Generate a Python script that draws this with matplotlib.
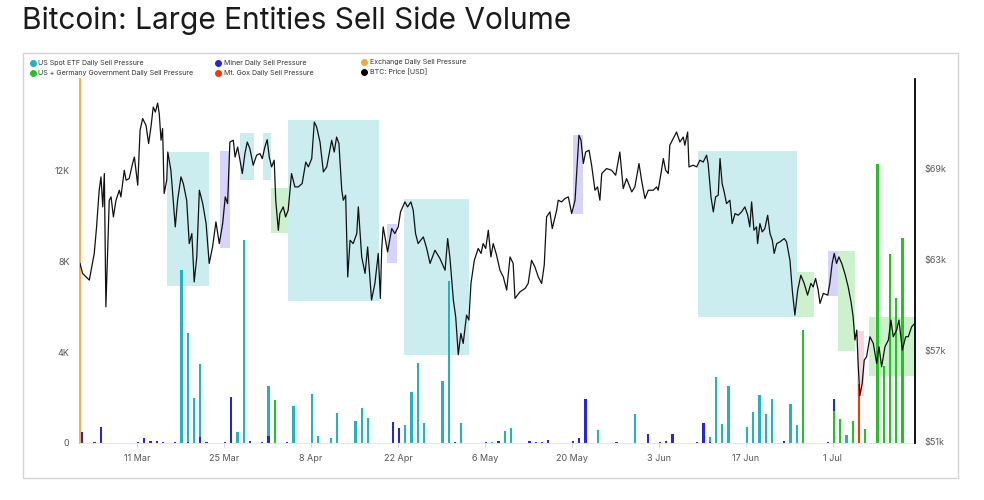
import matplotlib
matplotlib.use("Agg")
import matplotlib.pyplot as plt
import pandas as pd
from matplotlib.lines import Line2D
from matplotlib.patches import Rectangle
import matplotlib.dates as mdates
from matplotlib.ticker import FixedLocator, FixedFormatter

plt.rcParams['font.family'] = ['Inter', 'DejaVu Sans']

START = pd.Timestamp('2024-03-01 00:00')

# ---- BTC price (hours since START, USD) ----
price_hours = [20, 30, 56, 75, 84, 94, 101, 108, 114, 120, 127, 133, 140, 149, 159, 172, 178, 191, 198, 210,
               223, 230, 243, 252, 262, 275, 285, 294, 303, 311, 320, 326, 333, 339, 345, 355, 359, 371, 388, 397,
               410, 419, 432, 442, 452, 461, 471, 481, 494, 507, 519, 532, 545, 558, 571, 581, 590, 599, 612, 619,
               629, 638, 647, 657, 666, 676, 689, 702, 715, 724, 734, 743, 751, 760, 770, 776, 786, 792, 805, 814,
               824, 837, 850, 863, 878, 892, 902, 915, 925, 934, 947, 960, 973, 992, 1002, 1011, 1020, 1031, 1037, 1046,
               1054, 1063, 1075, 1089, 1095, 1108, 1121, 1131, 1146, 1159, 1172, 1180, 1185, 1191, 1208, 1224, 1236, 1249, 1258, 1275,
               1285, 1298, 1307, 1316, 1326, 1346, 1359, 1372, 1391, 1410, 1430, 1440, 1449, 1462, 1471, 1481, 1491, 1500, 1513, 1522,
               1530, 1543, 1558, 1569, 1577, 1587, 1597, 1607, 1616, 1629, 1642, 1655, 1668, 1681, 1693, 1700, 1719, 1739, 1751, 1764,
               1777, 1790, 1803, 1813, 1822, 1835, 1844, 1861, 1867, 1880, 1893, 1906, 1919, 1932, 1938, 1947, 1955, 1964, 1973, 1986,
               1996, 2009, 2019, 2028, 2035, 2054, 2073, 2089, 2105, 2118, 2131, 2151, 2163, 2179, 2189, 2202, 2215, 2234, 2247, 2253,
               2266, 2273, 2282, 2292, 2298, 2311, 2324, 2337, 2350, 2356, 2367, 2372, 2388, 2402, 2414, 2427, 2440, 2446, 2457, 2466,
               2475, 2485, 2492, 2500, 2508, 2517, 2530, 2539, 2550, 2562, 2575, 2588, 2599, 2607, 2614, 2623, 2633, 2637, 2646, 2655,
               2665, 2676, 2685, 2694, 2701, 2711, 2723, 2740, 2749, 2762, 2771, 2781, 2792, 2804, 2817, 2830, 2843, 2852, 2861, 2871,
               2878, 2891, 2908, 2916, 2925, 2933, 2942, 2951, 2962, 2974, 2987, 2998, 3006, 3013, 3020, 3026, 3032, 3041, 3049, 3058,
               3071, 3084, 3097, 3106, 3116, 3129, 3142, 3152, 3161, 3174, 3183, 3196, 3209, 3219, 3232, 3245]
price_usd = [62720, 62060, 61620, 63380, 65130, 67550, 68430, 66450, 68650, 59860, 63590, 66890, 67110, 65790, 66890, 67550, 67110, 68870, 68210, 68320,
             69310, 69740, 67880, 71500, 72280, 71830, 70630, 71720, 73040, 72710, 73300, 72610, 70850, 71620, 67330, 68210, 70070, 68870, 65130, 66890,
             68430, 67990, 66890, 64030, 64690, 61500, 63150, 67550, 66670, 65350, 62720, 63810, 65460, 64030, 65350, 67110, 66670, 70730, 70850, 69740,
             70400, 69530, 68650, 69970, 70730, 70300, 69200, 69860, 69970, 69640, 70400, 70890, 69740, 69090, 69530, 66890, 64900, 66010, 66450, 65790,
             66230, 68650, 67770, 67770, 67990, 69410, 69090, 69640, 72050, 71720, 70730, 68760, 69090, 70850, 70070, 71060, 70630, 67550, 66890, 67220,
             61830, 64250, 64030, 64690, 66450, 63150, 62060, 63810, 60300, 61400, 63380, 60410, 63590, 65130, 63480, 65020, 64690, 65130, 66120, 66780,
             66450, 66780, 66230, 64690, 64030, 64470, 63710, 62720, 63590, 63050, 62270, 64360, 63050, 60300, 59200, 56700, 58100, 57440, 59310, 58980,
             61400, 62930, 63710, 63380, 64030, 63710, 64910, 63150, 64030, 63260, 62270, 61830, 60960, 63150, 62720, 60410, 60840, 61070, 61400, 62930,
             62490, 61830, 61400, 62600, 65790, 66120, 65020, 66230, 66890, 66780, 67000, 67110, 66010, 66890, 68650, 71180, 70850, 69310, 70070, 70190,
             69200, 67550, 67770, 66890, 68650, 68980, 68870, 68540, 70070, 67660, 68320, 67440, 67770, 69310, 68210, 67000, 67550, 67550, 67770, 67550,
             68870, 69640, 68870, 68650, 70520, 70960, 71390, 70730, 71060, 70520, 71390, 69090, 69200, 69090, 69530, 69410, 69860, 69310, 67110, 66120,
             67110, 67220, 69640, 67990, 67440, 66670, 66890, 65350, 66010, 65900, 66120, 66450, 65900, 65130, 66780, 64910, 65130, 64030, 65350, 64800,
             65020, 65900, 64690, 64250, 63380, 64030, 64140, 64360, 64140, 62930, 60960, 59310, 60960, 61940, 61400, 60630, 61400, 61170, 61730, 60960,
             60080, 60740, 60630, 61400, 62720, 63380, 62720, 63150, 62720, 62060, 61170, 60180, 59200, 57660, 58320, 55900, 54000, 54800, 56340, 56560,
             57880, 57440, 56120, 57220, 55900, 57220, 57660, 58980, 57880, 58320, 58980, 57000, 57880, 57880, 58540, 58780]

# ---- daily sell pressure (BTC) ----
etf_dates = ['2024-03-18', '2024-03-19', '2024-03-20', '2024-03-21', '2024-03-27', '2024-03-28', '2024-04-01',
             '2024-04-05', '2024-04-08', '2024-04-09', '2024-04-11', '2024-04-12', '2024-04-15', '2024-04-16',
             '2024-04-17', '2024-04-23', '2024-04-24', '2024-04-25', '2024-04-26', '2024-04-29', '2024-04-30',
             '2024-05-02', '2024-05-07', '2024-05-09', '2024-05-10', '2024-05-24', '2024-05-30', '2024-06-10',
             '2024-06-11', '2024-06-12', '2024-06-13', '2024-06-14', '2024-06-17', '2024-06-18', '2024-06-19',
             '2024-06-20', '2024-06-21', '2024-06-24', '2024-06-25', '2024-06-26', '2024-07-03']
etf_btc = [7620, 4820, 1970, 3490, 500, 8930, 2510, 1630, 2140, 300, 230, 1330, 970, 1530, 1110, 790, 2260, 3540,
           890, 2750, 7140, 870, 30, 520, 660, 560, 1290, 600, 260, 2910, 850, 2510, 700, 1380, 2100, 1290, 1950,
           1700, 790, 200, 350]

miner_dates = ['2024-03-02', '2024-03-04', '2024-03-05', '2024-03-11', '2024-03-12', '2024-03-13', '2024-03-14',
               '2024-03-15', '2024-03-17', '2024-03-19', '2024-03-21', '2024-03-22', '2024-03-25', '2024-03-26',
               '2024-03-29', '2024-03-31', '2024-04-01', '2024-04-04', '2024-04-21', '2024-04-22', '2024-05-01',
               '2024-05-06', '2024-05-08', '2024-05-13', '2024-05-14', '2024-05-15', '2024-05-16', '2024-05-20',
               '2024-05-21', '2024-05-22', '2024-05-27', '2024-06-01', '2024-06-02', '2024-06-03', '2024-06-04',
               '2024-06-05', '2024-06-09', '2024-06-10', '2024-06-11', '2024-06-23', '2024-06-30', '2024-07-01']
miner_btc = [500, 50, 700, 60, 200, 100, 100, 30, 60, 50, 250, 50, 50, 2030, 100, 30, 300, 30, 940, 650, 50,
             60, 80, 100, 40, 40, 120, 100, 200, 1920, 50, 410, 20, 50, 80, 380, 50, 860, 50, 80, 30, 1950]

gov_dates = ['2024-04-02', '2024-06-26', '2024-07-01', '2024-07-02', '2024-07-04', '2024-07-06', '2024-07-08',
             '2024-07-09', '2024-07-10', '2024-07-11', '2024-07-12']
gov_btc = [1890, 4960, 1410, 1050, 980, 600, 12280, 3390, 8340, 6370, 9020]

gox_dates = ['2024-07-05']
gox_btc = [2610]

# ---- highlighted periods (hours since START, price range) ----
box_kind = ['etf', 'miner', 'etf', 'etf', 'gov', 'etf', 'miner', 'etf', 'miner', 'etf', 'gov', 'miner', 'gov', 'gox', 'gov']
box_start_h = [357, 561, 638, 725, 758, 824, 1204, 1270, 1923, 2405, 2789, 2910, 2948, 3020, 3068]
box_end_h = [518, 598, 693, 756, 822, 1176, 1243, 1522, 1961, 2789, 2855, 2948, 3013, 3048, 3245]
box_low = [61240, 63740, 68250, 68250, 64730, 60250, 62780, 56670, 65950, 59200, 59200, 60560, 56950, 53990, 55290]
box_high = [70070, 70140, 71350, 71350, 67700, 72160, 65310, 66960, 71180, 70140, 62140, 63510, 63510, 58270, 59180]

vol_ticks = [0, 4000, 8000, 12000]
vol_labels = ['0', '4K', '8K', '12K']
price_ticks = [51000, 57000, 63000, 69000]
price_labels = ['$51k', '$57k', '$63k', '$69k']
date_ticks = ['2024-03-11', '2024-03-25', '2024-04-08', '2024-04-22', '2024-05-06', '2024-05-20',
              '2024-06-03', '2024-06-17', '2024-07-01']

C_ETF = '#1fb4be'
C_MINER = '#2424e8'
C_GOV = '#22c322'
C_GOX = '#ff3300'
C_EXCH = '#f7a733'
FILL = {'etf': '#ccedef', 'miner': '#d5d5fb', 'gov': '#cdf0cd', 'gox': '#fad4e3'}

W, H = 984, 500
fig = plt.figure(figsize=(W / 100, H / 100), dpi=100)
fig.patch.set_facecolor('white')

# outer frame
fig.patches.append(Rectangle((22.5 / W, 1 - 478 / H), (958 - 22.5) / W, (478 - 52.5) / H,
                             transform=fig.transFigure, fill=False, ec='#d4d4d4', lw=1.0))

fig.text(22 / W, 1 - 29 / H, 'Bitcoin: Large Entities Sell Side Volume', fontsize=21.5,
         color='#1a1a1a', va='baseline', ha='left')

ax = fig.add_axes([80 / W, 1 - 443 / H, (915 - 80) / W, (443 - 79) / H])
ax2 = ax.twinx()

ptimes = START + pd.to_timedelta(price_hours, unit='h')

# highlight boxes (price coordinates), behind bars
for k, s, e, lo, hi in zip(box_kind, box_start_h, box_end_h, box_low, box_high):
    x0 = mdates.date2num(START + pd.Timedelta(hours=s))
    x1 = mdates.date2num(START + pd.Timedelta(hours=e))
    ax.add_patch(Rectangle((x0, lo), x1 - x0, hi - lo, transform=ax2.transData,
                           facecolor=FILL[k], edgecolor='none', zorder=0.5))

bar_kw = dict(width=0.36, align='edge', linewidth=0, antialiased=False)
ax.bar(pd.to_datetime(etf_dates), etf_btc, color=C_ETF, zorder=2, **bar_kw)
ax.bar(pd.to_datetime(miner_dates), miner_btc, color=C_MINER, zorder=2.1, **bar_kw)
ax.bar(pd.to_datetime(gov_dates), gov_btc, color=C_GOV, zorder=2.2, **bar_kw)
ax.bar(pd.to_datetime(gox_dates), gox_btc, color=C_GOX, zorder=2.3, **bar_kw)

ax2.plot(ptimes, price_usd, color='#111111', lw=0.9, zorder=3)

xmin = START + pd.Timedelta(hours=price_hours[0])
xmax = START + pd.Timedelta(hours=price_hours[-1])
ax.set_xlim(xmin, xmax)
ax.set_ylim(0, 16020)
ax2.set_ylim(50870, 74890)

ax.yaxis.set_major_locator(FixedLocator(vol_ticks))
ax.yaxis.set_major_formatter(FixedFormatter(vol_labels))
ax2.yaxis.set_major_locator(FixedLocator(price_ticks))
ax2.yaxis.set_major_formatter(FixedFormatter(price_labels))
ax.set_xticks(pd.to_datetime(date_ticks))
ax.xaxis.set_major_formatter(mdates.DateFormatter('%-d %b'))

ax.tick_params(axis='y', length=0, pad=7.5, labelsize=6.5, labelcolor='#555555')
ax2.tick_params(axis='y', length=0, pad=7, labelsize=6.5, labelcolor='#555555')
ax.tick_params(axis='x', length=3, width=0.6, color='#cccccc', pad=5, labelsize=6.5, labelcolor='#555555')

for sp in ['top', 'right']:
    ax.spines[sp].set_visible(False)
ax.spines['left'].set_color(C_EXCH)
ax.spines['left'].set_linewidth(1.3)
ax.spines['bottom'].set_color('#e6e6e6')
ax.spines['bottom'].set_linewidth(0.8)
for sp in ['top', 'left', 'bottom']:
    ax2.spines[sp].set_visible(False)
ax2.spines['right'].set_color('#000000')
ax2.spines['right'].set_linewidth(1.3)
ax.set_facecolor('none')

def mk(c):
    return Line2D([], [], marker='o', linestyle='', markersize=4, markerfacecolor=c, markeredgecolor=c)

legend_cols = [
    (30, 60.5, [mk(C_ETF), mk(C_GOV)], ['US Spot ETF Daily Sell Pressure', 'US + Germany Government Daily Sell Pressure']),
    (215, 60.5, [mk(C_MINER), mk(C_GOX)], ['Miner Daily Sell Pressure', 'Mt. Gox Daily Sell Pressure']),
    (361, 59, [mk(C_EXCH), mk('#000000')], ['Exchange Daily Sell Pressure', 'BTC: Price [USD]']),
]
for lx, ly, hs, ls in legend_cols:
    fig.legend(hs, ls, loc='upper left', bbox_to_anchor=(lx / W, 1 - ly / H), frameon=False,
               fontsize=5.1, handlelength=0.8, handletextpad=0.4, labelspacing=0.5,
               borderpad=0, borderaxespad=0, labelcolor='#333333')

fig.savefig('out.png', dpi=100)
